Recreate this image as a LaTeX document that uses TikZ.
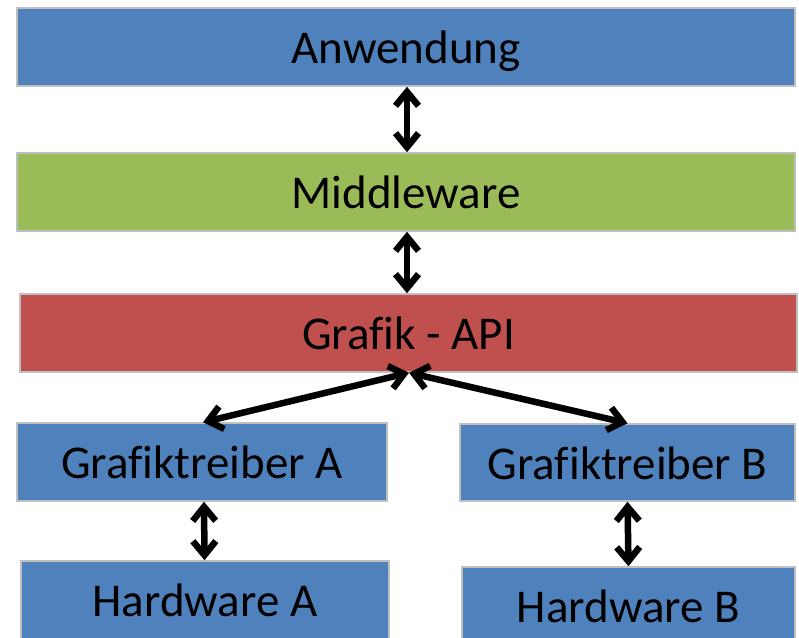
\documentclass[tikz,border=0pt]{standalone}
\usepackage{fontspec}
\setmainfont[Ligatures=NoCommon]{Carlito}
\usetikzlibrary{arrows.meta}
\definecolor{pblue}{HTML}{4F81BD}
\definecolor{pgreen}{HTML}{9BBB59}
\definecolor{pred}{HTML}{C0504D}
\definecolor{pborder}{HTML}{BFBFBF}
\tikzset{
  layer/.style={draw=pborder, line width=1.5pt, inner sep=0pt, font=\fontsize{47}{56}\selectfont,
    text height=36.5pt, text depth=3.5pt},
  barb/.tip={Straight Barb[length=14pt,width=23pt]},
  conn/.style={line width=6.5pt, black, barb-barb},
}
\begin{document}
\begin{tikzpicture}[x=1pt, y=-1pt]
\useasboundingbox (0,0) rectangle (799,637);
\clip (0,0) rectangle (799,637);
\node[layer, fill=pblue, minimum width=778pt, minimum height=78pt] (anw) at (406,47) {Anwendung};
\node[layer, fill=pgreen, minimum width=778pt, minimum height=78pt] (mid) at (406,192) {Middleware};
\node[layer, fill=pred, minimum width=777pt, minimum height=78pt] (api) at (408.5,333) {Grafik - API};
\node[layer, fill=pblue, minimum width=370pt, minimum height=78pt] (ga) at (202,462) {Grafiktreiber A};
\node[layer, fill=pblue, minimum width=335pt, minimum height=77pt] (gb) at (627.5,462.5) {Grafiktreiber B};
\node[layer, fill=pblue, minimum width=368pt, minimum height=78pt] (ha) at (205,600) {Hardware A};
\node[layer, fill=pblue, minimum width=333pt, minimum height=78pt] (hb) at (628.5,606) {Hardware B};
\coordinate (apis) at ([xshift=0.5pt]api.south);
\draw[conn] ([xshift=1pt]anw.south) -- ([xshift=1pt]mid.north);
\draw[conn] ([xshift=1pt]mid.south) -- ([xshift=-1.5pt]api.north);
\draw[conn] (apis) -- ([xshift=1pt]ga.north);
\draw[conn] (apis) -- (gb.north);
\draw[conn] ([xshift=2pt]ga.south) -- ([xshift=-0.5pt]ha.north);
\draw[conn] (gb.south) -- (hb.north);
\end{tikzpicture}
\end{document}
